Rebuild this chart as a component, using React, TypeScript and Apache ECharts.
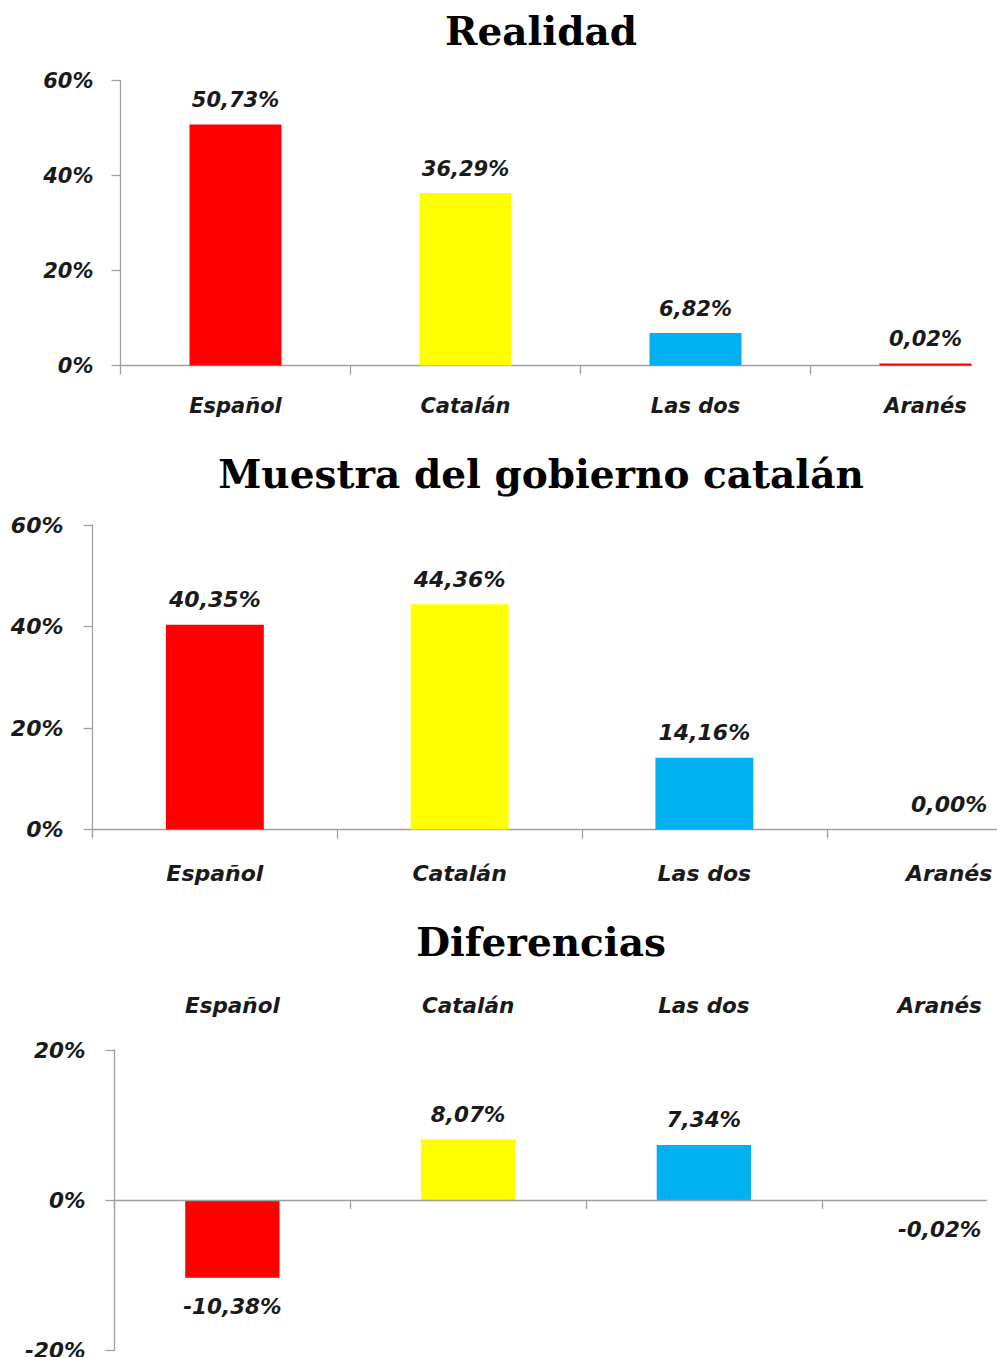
import React, { useEffect, useRef } from "react";
import * as echarts from "echarts";

const categories = ["Español", "Catalán", "Las dos", "Aranés"];
const realidad = [50.73, 36.29, 6.82, 0.02];
const muestra = [40.35, 44.36, 14.16, 0.0];
const diferencias = [-10.38, 8.07, 7.34, -0.02];
const barColors = ["#FF0000", "#FFFF00", "#00B0F0", "#FF0000"];
const titles = ["Realidad", "Muestra del gobierno catalán", "Diferencias"];

const LABEL_FONT = "'DejaVu Sans', Verdana, sans-serif";
const TITLE_FONT = "'DejaVu Serif', 'Bookman Old Style', serif";
const AXIS_COLOR = "#a0a0a0";
const TEXT_COLOR = "#1a1a1a";

const fmt = (v: number) => v.toFixed(2).replace(".", ",") + "%";

function labelStyle(size: number) {
  return {
    fontFamily: LABEL_FONT,
    fontStyle: "italic" as const,
    fontWeight: "bold" as const,
    fontSize: size,
    color: TEXT_COLOR,
  };
}

type PanelCfg = {
  top: number;
  width: number;
  height: number;
  grid: { left: number; top: number; width: number; height: number };
  size: number;
  yRange: [number, number];
  yMargin: number;
  xMargin: number;
  values: number[];
  title: string;
  titleY: number;
  labelsOnTop: boolean;
  barMinHeight: number;
  barZ: number;
};

const panels: PanelCfg[] = [
  {
    top: 0, width: 972, height: 445,
    grid: { left: 120.5, top: 80.5, width: 920, height: 285 },
    size: 21, yRange: [0, 60], yMargin: 27, xMargin: 30,
    values: realidad, title: titles[0], titleY: 31, labelsOnTop: false, barMinHeight: 2, barZ: 2,
  },
  {
    top: 445, width: 997, height: 455,
    grid: { left: 92.5, top: 80, width: 979, height: 304.5 },
    size: 22, yRange: [0, 60], yMargin: 29, xMargin: 33,
    values: muestra, title: titles[1], titleY: 29, labelsOnTop: false, barMinHeight: 0, barZ: 2,
  },
  {
    top: 900, width: 987, height: 457,
    grid: { left: 114.5, top: 150, width: 943, height: 300 },
    size: 21.5, yRange: [-20, 20], yMargin: 29, xMargin: 34,
    values: diferencias, title: titles[2], titleY: 42, labelsOnTop: true, barMinHeight: 0, barZ: -1,
  },
];

function buildOption(p: PanelCfg) {
  const xAxis: any[] = [
    {
      type: "category",
      data: categories,
      position: "bottom",
      axisLine: { show: true, onZero: true, lineStyle: { color: AXIS_COLOR, width: 1.3 } },
      axisTick: { show: true, inside: false, length: 9, lineStyle: { color: AXIS_COLOR, width: 1.3 } },
      axisLabel: { show: !p.labelsOnTop, margin: p.xMargin, ...labelStyle(p.size) },
      splitLine: { show: false },
    },
  ];
  if (p.labelsOnTop) {
    xAxis.push({
      type: "category",
      data: categories,
      position: "top",
      axisLine: { show: false, onZero: false },
      axisTick: { show: false },
      axisLabel: { show: true, margin: p.xMargin, ...labelStyle(p.size) },
      splitLine: { show: false },
    });
  }
  return {
    animation: false,
    grid: { ...p.grid, outerBoundsMode: "none", containLabel: false },
    xAxis,
    yAxis: {
      type: "value",
      min: p.yRange[0],
      max: p.yRange[1],
      interval: 20,
      axisLine: { show: true, lineStyle: { color: AXIS_COLOR, width: 1.3 } },
      axisTick: { show: true, inside: false, length: 9, lineStyle: { color: AXIS_COLOR, width: 1.3 } },
      axisLabel: { margin: p.yMargin, formatter: "{value}%", ...labelStyle(p.size) },
      splitLine: { show: false },
    },
    series: [
      {
        type: "bar",
        xAxisIndex: 0,
        z: p.barZ,
        barWidth: "40%",
        barMinHeight: p.barMinHeight,
        data: p.values.map((v) =>
          v < 0 ? { value: v, label: { position: "bottom", distance: 18 } } : v
        ),
        itemStyle: { color: (q: any) => barColors[q.dataIndex] },
        label: {
          show: true,
          position: "top",
          distance: 14,
          formatter: (q: any) => fmt(q.value),
          ...labelStyle(p.size),
        },
      },
    ],
    graphic: [
      {
        type: "text",
        x: 541,
        y: p.titleY,
        style: {
          text: p.title,
          fontFamily: TITLE_FONT,
          fontWeight: "bold",
          fontSize: 39,
          fill: "#000",
          textAlign: "center",
          textVerticalAlign: "middle",
        },
      },
    ],
  };
}

function Panel({ cfg }: { cfg: PanelCfg }) {
  const ref = useRef<HTMLDivElement>(null);
  useEffect(() => {
    if (!ref.current) return;
    const chart = echarts.init(ref.current, null, { renderer: "svg" });
    chart.setOption(buildOption(cfg));
    return () => chart.dispose();
  }, [cfg]);
  return (
    <div
      ref={ref}
      style={{
        position: "fixed",
        left: 0,
        top: cfg.top,
        width: cfg.width,
        height: cfg.height,
        background: "transparent",
      }}
    />
  );
}

export default function App() {
  return (
    <div style={{ position: "fixed", left: 0, top: 0, width: 997, height: 1357, background: "#fff" }}>
      {panels.map((p, i) => (
        <Panel key={i} cfg={p} />
      ))}
    </div>
  );
}
